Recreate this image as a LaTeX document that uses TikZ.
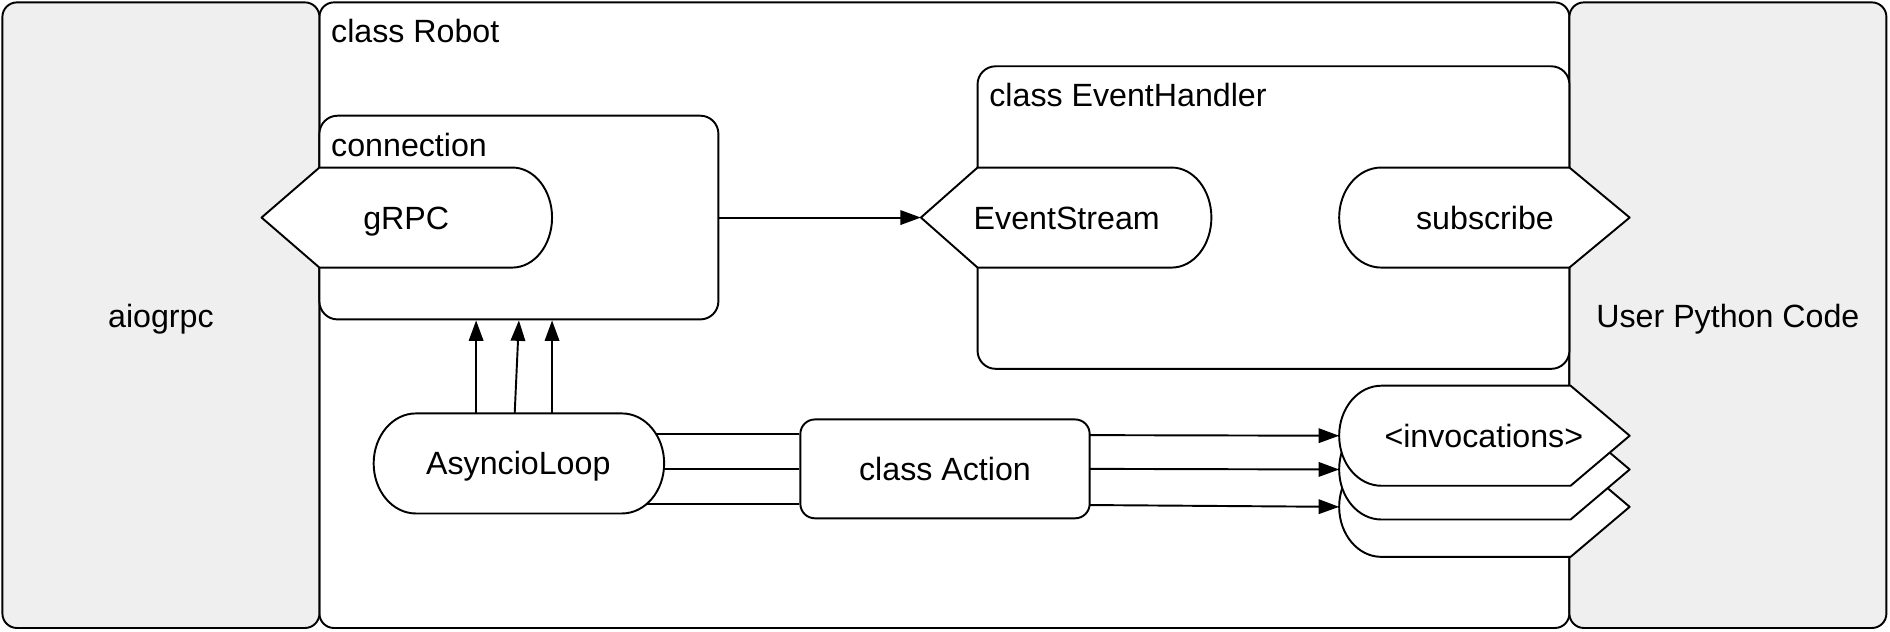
\documentclass[tikz,border=0pt]{standalone}
\usepackage{fontspec}
\setmainfont{Liberation Sans}
\usetikzlibrary{arrows.meta}
\definecolor{panel}{HTML}{EFEFEF}
\begin{document}
\begin{tikzpicture}[x=1pt,y=1pt,
  line width=1.6pt, line join=round,
  txt/.style={font=\fontsize{26.7}{32}\selectfont, inner sep=0pt, anchor=base},
  ltxt/.style={txt, anchor=base west},
  frame/.style={draw, rounded corners=12pt, inner sep=0pt},
  arr/.style={-{Triangle[length=17pt,width=12pt]}},
  shp/.style={draw, fill=white}]
\useasboundingbox (0,0) rectangle (1568,524);

% outer panels
\node[frame, fill=white, minimum width=1037pt, minimum height=519pt] (robot) at (783.5,262.5) {};
\node[frame, fill=panel, minimum width=263pt, minimum height=519pt] (aio) at (133.5,262.5) {};
\node[frame, fill=panel, minimum width=263pt, minimum height=519pt] (user) at (1433.5,262.5) {};
\node[txt] (aiot) at (133.5,252) {aiogrpc};
\node[txt] (usert) at (1433.5,252) {User Python Code};
\node[ltxt] (robott) at (274,489) {class Robot};

% inner containers
\node[frame, fill=white, rounded corners=15pt, minimum width=331pt, minimum height=169pt] (conn) at (430.5,343.5) {};
\node[ltxt] (connt) at (274,394.5) {connection};
\node[frame, fill=white, rounded corners=15pt, minimum width=491pt, minimum height=251pt] (eh) at (1056.5,343.5) {};
\node[ltxt] (eht) at (820,435.5) {class EventHandler};

% gRPC
\draw[shp] (217,343.5) -- (265,385) -- (425,385)
  arc[start angle=90, end angle=-90, x radius=33pt, y radius=41.5pt] -- (265,302) -- cycle;
\coordinate (grpc) at (217,343.5);
\node[txt] (grpct) at (337,334) {gRPC};

% EventStream
\draw[shp] (764,343.5) -- (811,385) -- (972,385)
  arc[start angle=90, end angle=-90, x radius=33pt, y radius=41.5pt] -- (811,302) -- cycle;
\coordinate (es) at (764,343.5);
\node[txt] (est) at (885,334) {EventStream};

% subscribe
\draw[shp] (1146,385) -- (1302,385) -- (1352,343.5) -- (1302,302) -- (1146,302)
  arc[start angle=270, end angle=90, x radius=35pt, y radius=41.5pt] -- cycle;
\node[txt] (subt) at (1232,334) {subscribe};

% AsyncioLoop
\draw[shp] (345,181) -- (516,181)
  arc[start angle=90, end angle=-90, x radius=35pt, y radius=41.5pt] -- (345,98)
  arc[start angle=270, end angle=90, x radius=35pt, y radius=41.5pt] -- cycle;
\node[txt] (alt) at (430,130) {AsyncioLoop};
\coordinate (up1) at (395,181);
\coordinate (up2) at (427,181);
\coordinate (up3) at (458,181);
\coordinate (al1) at (544.3,164);
\coordinate (al2) at (550.8,135);
\coordinate (al3) at (536.6,106);

% class Action
\node[frame, fill=white, minimum width=240pt, minimum height=82pt] (act) at (784,135) {};
\node[txt] (actt) at (784,125.5) {class Action};
\coordinate (ae1) at (904,163);
\coordinate (ae2) at (904,135);
\coordinate (ae3) at (904,105);

% invocations stack
\draw[shp] (1146,145) -- (1303,145) -- (1352,103.5) -- (1303,62) -- (1146,62)
  arc[start angle=270, end angle=90, x radius=35pt, y radius=41.5pt] -- cycle;
\draw[shp] (1146,176) -- (1303,176) -- (1352,134.5) -- (1303,93) -- (1146,93)
  arc[start angle=270, end angle=90, x radius=35pt, y radius=41.5pt] -- cycle;
\draw[shp] (1146,204) -- (1303,204) -- (1352,162.5) -- (1303,121) -- (1146,121)
  arc[start angle=270, end angle=90, x radius=35pt, y radius=41.5pt] -- cycle;
\coordinate (inv1) at (1111,162.5);
\coordinate (inv2) at (1111,134.5);
\coordinate (inv3) at (1111,103.5);
\node[txt] (invt) at (1231,153) {<invocations>};

% connectors
\draw[arr] (conn.east) -- (es);
\draw[arr] (up1) -- (up1 |- conn.south);
\draw[arr] (up2) -- (conn.south);
\draw[arr] (up3) -- (up3 |- conn.south);
\draw (al1) -- (al1 -| act.west);
\draw (al2) -- (al2 -| act.west);
\draw (al3) -- (al3 -| act.west);
\draw[arr] (ae1) -- (inv1);
\draw[arr] (ae2) -- (inv2);
\draw[arr] (ae3) -- (inv3);
\end{tikzpicture}
\end{document}
